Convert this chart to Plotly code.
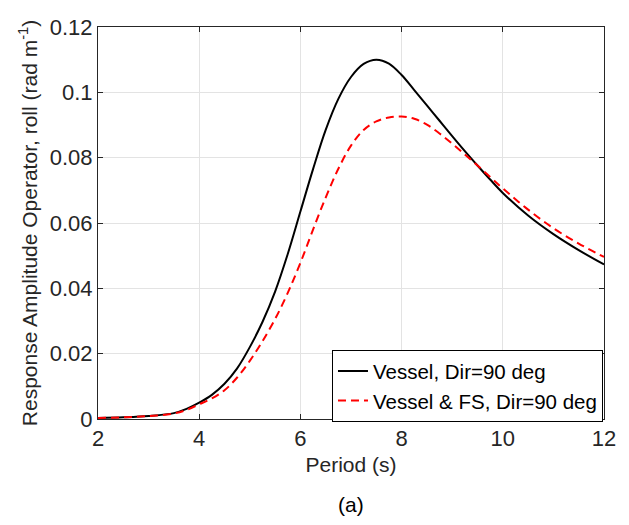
import plotly.graph_objects as go

period = [2, 2.5, 3, 3.5, 3.75, 4, 4.25, 4.5, 4.75, 5, 5.25, 5.5, 5.75, 6, 6.25, 6.5, 6.75, 7,
          7.25, 7.5, 7.75, 8, 8.25, 8.5, 8.75, 9, 9.25, 9.5, 9.75, 10, 10.5, 11, 11.5, 12]
rao_vessel = [0.0003, 0.0005, 0.0009, 0.0018, 0.0031, 0.0050, 0.0074, 0.0108, 0.0155, 0.0220,
              0.0297, 0.0390, 0.0505, 0.0635, 0.0765, 0.0885, 0.0980, 0.1047,
              0.1087, 0.1100, 0.1088, 0.1053, 0.1007, 0.0960, 0.0913, 0.0866, 0.0820, 0.0776,
              0.0733, 0.0692, 0.0623, 0.0566, 0.0517, 0.0473]
rao_vessel_fs = [0.0003, 0.0005, 0.0009, 0.0017, 0.0028, 0.0045, 0.0063, 0.0088, 0.0127, 0.0178,
                 0.0238, 0.0306, 0.0386, 0.0478, 0.0580, 0.0678, 0.0766, 0.0837,
                 0.0885, 0.0911, 0.0923, 0.0926, 0.0919, 0.0901, 0.0874, 0.0843, 0.0810, 0.0776,
                 0.0741, 0.0706, 0.0641, 0.0584, 0.0537, 0.0496]
series_names = ["Vessel, Dir=90 deg", "Vessel & FS, Dir=90 deg"]
x_ticks = [2, 4, 6, 8, 10, 12]
y_ticks = [0, 0.02, 0.04, 0.06, 0.08, 0.1, 0.12]
y_ticktext = ["0", "0.02", "0.04", "0.06", "0.08", "0.1", "0.12"]

FONT = "Liberation Sans, Arial, sans-serif"
AX = "#262626"

fig = go.Figure()
fig.add_trace(go.Scatter(x=period, y=rao_vessel, mode="lines", name=series_names[0],
                         line=dict(color="black", width=2, shape="spline", smoothing=1.0)))
fig.add_trace(go.Scatter(x=period, y=rao_vessel_fs, mode="lines", name=series_names[1],
                         line=dict(color="red", width=2, dash="8px,5px", shape="spline", smoothing=1.0)))

fig.update_layout(
    width=629, height=525,
    margin=dict(l=98, r=25, t=27, b=106),
    paper_bgcolor="white", plot_bgcolor="white",
    font=dict(family=FONT, size=21, color=AX),
    showlegend=True,
    legend=dict(x=0.998, y=-0.008, xanchor="right", yanchor="bottom",
                bgcolor="white", bordercolor="black", borderwidth=1,
                font=dict(family=FONT, size=20.5, color="black"),
                tracegroupgap=0, itemwidth=30),
    xaxis=dict(range=[2, 12], tickvals=x_ticks, ticks="inside", ticklen=5,
               tickcolor=AX, showline=True, linecolor=AX, linewidth=1, mirror="ticks",
               showgrid=True, gridcolor="#e3e3e3", gridwidth=1, zeroline=False,
               tickfont=dict(size=22, color=AX),
               title=dict(text="Period (s)", font=dict(size=21, color=AX), standoff=6)),
    yaxis=dict(range=[0, 0.12], tickvals=y_ticks, ticktext=y_ticktext, ticks="inside", ticklen=5,
               tickcolor=AX, showline=True, linecolor=AX, linewidth=1, mirror="ticks",
               showgrid=True, gridcolor="#e3e3e3", gridwidth=1, zeroline=False,
               tickfont=dict(size=22, color=AX),
               title=dict(text="Response Amplitude Operator, roll (rad m<sup>-1</sup>)",
                          font=dict(size=21, color=AX), standoff=6)),
    annotations=[dict(text="(a)", x=0.5, y=-0.219, xref="paper", yref="paper",
                      xanchor="center", yanchor="middle", showarrow=False,
                      font=dict(family=FONT, size=21, color="black"))],
)

fig.write_html("out.html")
